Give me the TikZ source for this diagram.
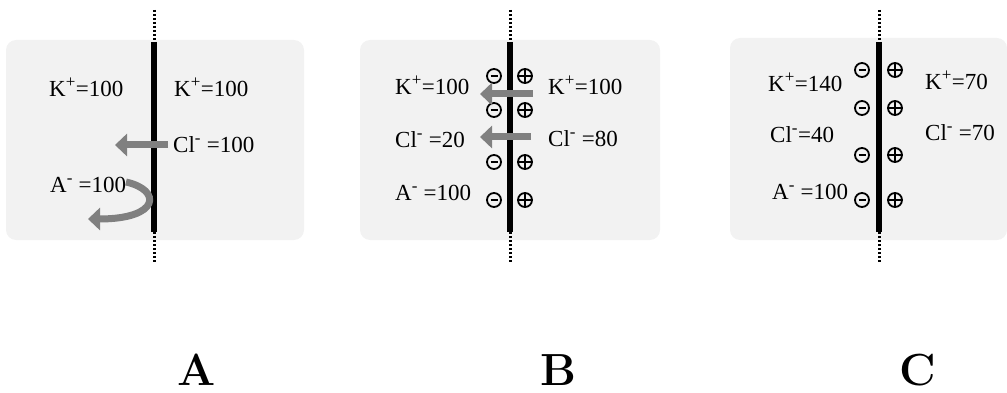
\documentclass[tikz,border=0pt]{standalone}
\usepackage{fontspec}
\newfontfamily\tnr{Liberation Serif}
\usetikzlibrary{arrows.meta}
\definecolor{bg}{HTML}{F2F2F2}
\definecolor{arr}{HTML}{808080}
\newcommand\ionsup[1]{\textsuperscript{\fontsize{17}{17}\selectfont #1}}
\tikzset{
  lab/.style={font=\tnr\fontsize{23}{25}\selectfont, inner sep=0pt, anchor=west},
  bgbox/.style={fill=bg, draw=none, rounded corners=10pt},
  mem/.style={line width=6pt, black},
  memend/.style={line width=3pt, black, dash pattern=on 2pt off 2pt},
  ionc/.style={circle, draw, line width=1.8pt, minimum size=14pt, inner sep=0pt},
  negion/.style={ionc, path picture={\draw[line width=1.6pt]
      ([xshift=-3.5pt]path picture bounding box.center) -- ([xshift=3.5pt]path picture bounding box.center);}},
  posion/.style={ionc, path picture={\draw[line width=1.6pt]
      ([xshift=-7pt]path picture bounding box.center) -- ([xshift=7pt]path picture bounding box.center)
      ([yshift=-7pt]path picture bounding box.center) -- ([yshift=7pt]path picture bounding box.center);}},
  flow/.style={arr, line width=7pt, -{Triangle[length=12pt,width=22pt]}},
  panel/.style={font=\bfseries\fontsize{45}{48}\selectfont, inner sep=0pt}
}
\begin{document}
\begin{tikzpicture}[x=1pt,y=-1pt]
\useasboundingbox (0,0) rectangle (1007,393);
% backgrounds
\fill[bgbox] (6,40) rectangle (304,240);
\fill[bgbox] (360,40) rectangle (660,240);
\fill[bgbox] (730,38) rectangle (1007,240);
% membranes
\foreach \mx in {154,510,879}{
  \draw[mem] (\mx,42) -- (\mx,232);
  \draw[memend] (\mx,10) -- (\mx,42);
  \draw[memend] (\mx,232) -- (\mx,262);
}
% ---------- A ----------
\node[lab] (aKl) at (49,87) {K\ionsup{+}=100};
\node[lab] (aKr) at (174,87) {K\ionsup{+}=100};
\node[lab] (aClr) at (173,145) {Cl\ionsup{-} =100};
\node[lab] (aAl) at (50,185) {A\ionsup{-} =100};
\coordinate (aCs) at (168,145);
\coordinate (aCe) at (115,145);
\draw[flow] (aCs) -- (aCe);
\coordinate (aAs) at (126,182);
\coordinate (aAe) at (88,219);
\draw[flow] (aAs) .. controls (162,190) and (160,219) .. (aAe);
\node[panel] (pA) at (197,370) {A};
% ---------- B ----------
\node[lab] (bKl) at (395,85) {K\ionsup{+}=100};
\node[lab] (bKr) at (548,85) {K\ionsup{+}=100};
\node[lab] (bCll) at (395,140) {Cl\ionsup{-} =20};
\node[lab] (bClr) at (548,139) {Cl\ionsup{-} =80};
\node[lab] (bAl) at (395,193) {A\ionsup{-} =100};
\foreach \y [count=\i] in {76,110,162,200}{
  \node[negion] (bn\i) at (494,\y) {};
  \node[posion] (bp\i) at (525,\y) {};
}
\coordinate (bKs) at (533,94);
\coordinate (bKe) at (480,94);
\draw[flow] (bKs) -- (bKe);
\coordinate (bCs) at (531,137);
\coordinate (bCe) at (480,137);
\draw[flow] (bCs) -- (bCe);
\node[panel] (pB) at (558,370) {B};
% ---------- C ----------
\node[lab] (cKl) at (768,82) {K\ionsup{+}=140};
\node[lab] (cKr) at (925,80) {K\ionsup{+}=70};
\node[lab] (cCll) at (770,135) {Cl\ionsup{-}=40};
\node[lab] (cClr) at (925,133) {Cl\ionsup{-} =70};
\node[lab] (cAl) at (772,192) {A\ionsup{-} =100};
\foreach \y [count=\i] in {70,108,155,200}{
  \node[negion] (cn\i) at (862,\y) {};
  \node[posion] (cp\i) at (895,\y) {};
}
\node[panel] (pC) at (918,370) {C};
\end{tikzpicture}
\end{document}
